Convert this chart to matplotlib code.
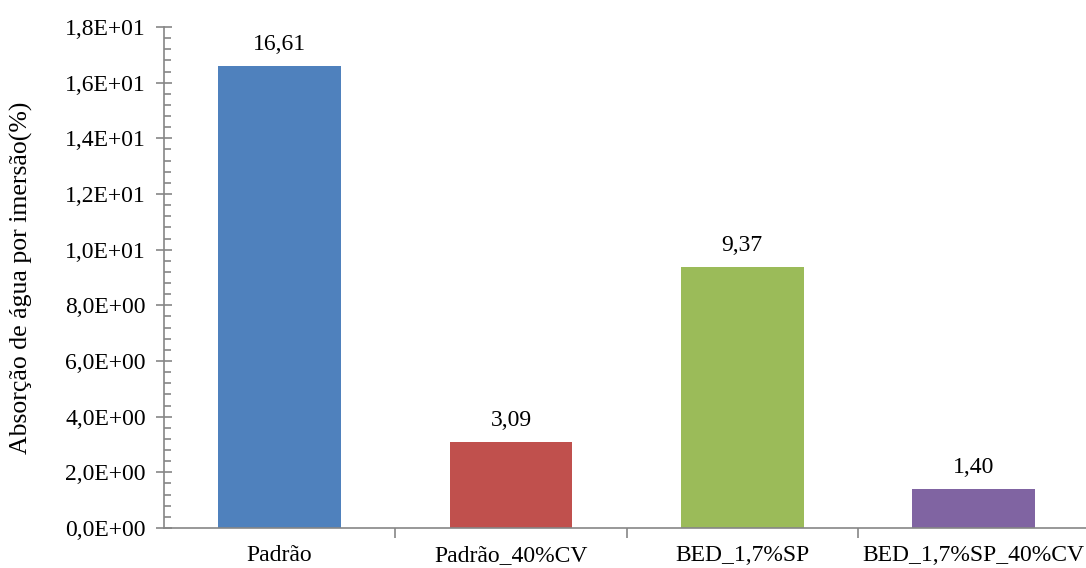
import matplotlib
matplotlib.use("Agg")
import matplotlib.pyplot as plt
from matplotlib.ticker import MultipleLocator, FuncFormatter

categories = ["Padrão", "Padrão_40%CV", "BED_1,7%SP", "BED_1,7%SP_40%CV"]
values = [16.61, 3.09, 9.37, 1.40]
colors = ["#4F81BD", "#C0504D", "#9BBB59", "#8064A2"]

plt.rcParams["font.family"] = ["Liberation Serif", "DejaVu Serif"]
axis_color = "#868686"

fig = plt.figure(figsize=(10.86, 5.68), dpi=100)
ax = fig.add_axes([0.151, 0.0704, 0.852, 0.8821])

x = list(range(len(categories)))
ax.bar(x, values, width=0.53, color=colors, zorder=2)

for xi, v in zip(x, values):
    ax.annotate(f"{v:.2f}".replace(".", ","), (xi, v), xytext=(0, 8),
                textcoords="offset points", ha="center", va="bottom",
                fontsize=17)

ax.set_xlim(-0.5, 3.5)
ax.set_ylim(0, 18)

def sci_comma(val, pos):
    s = f"{val:.1E}"
    return s.replace(".", ",")

ax.yaxis.set_major_locator(MultipleLocator(2))
ax.yaxis.set_minor_locator(MultipleLocator(0.4))
ax.yaxis.set_major_formatter(FuncFormatter(sci_comma))

ax.set_xticks(x)
ax.set_xticklabels(categories)
ax.tick_params(axis="x", which="major", length=0, labelsize=17, pad=12)
ax.set_xticks([0.5, 1.5, 2.5], minor=True)
ax.tick_params(axis="x", which="minor", direction="out", length=7,
               color=axis_color, width=1.2)

ax.tick_params(axis="y", which="major", direction="inout", length=12,
               color=axis_color, width=1.2, labelsize=17, pad=7)
ax.tick_params(axis="y", which="minor", direction="in", length=5,
               color=axis_color, width=1.2)

for side in ["top", "right"]:
    ax.spines[side].set_visible(False)
for side in ["left", "bottom"]:
    ax.spines[side].set_color(axis_color)
    ax.spines[side].set_linewidth(1.2)

ax.set_ylabel("Absorção de água por imersão(%)", fontsize=18.5)
ax.yaxis.set_label_coords(-0.142, 0.5)

fig.savefig("out.png", dpi=100)
